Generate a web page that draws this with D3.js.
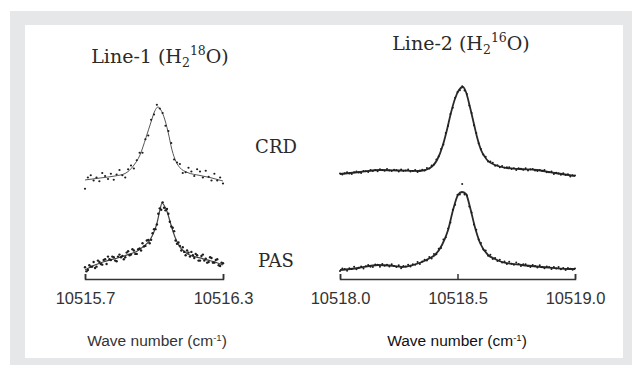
<!DOCTYPE html>
<html>
<head>
<meta charset="utf-8">
<script src="https://cdn.jsdelivr.net/npm/d3@7"></script>
<style>
  body { margin: 0; background: #fff; }
</style>
</head>
<body>
<div id="container"></div>
<script>
let w = 632;
let h = 365;

// scan grids, wave number in cm-1
let wnLeft = [10515.7000, 10515.7125, 10515.7250, 10515.7375, 10515.7500, 10515.7625, 10515.7750, 10515.7875,
  10515.8000, 10515.8125, 10515.8250, 10515.8375, 10515.8500, 10515.8625, 10515.8750, 10515.8875,
  10515.9000, 10515.9125, 10515.9250, 10515.9375, 10515.9500, 10515.9625, 10515.9750, 10515.9875,
  10516.0000, 10516.0125, 10516.0250, 10516.0375, 10516.0500, 10516.0625, 10516.0750, 10516.0875,
  10516.1000, 10516.1125, 10516.1250, 10516.1375, 10516.1500, 10516.1625, 10516.1750, 10516.1875,
  10516.2000, 10516.2125, 10516.2250, 10516.2375, 10516.2500, 10516.2625, 10516.2750, 10516.2875,
  10516.3000];

// second PAS sweep, sampled between the points of the first
let wnLeftB = [10515.7063, 10515.7188, 10515.7313, 10515.7438, 10515.7563, 10515.7688, 10515.7813, 10515.7938,
  10515.8063, 10515.8188, 10515.8313, 10515.8438, 10515.8563, 10515.8688, 10515.8813, 10515.8938,
  10515.9063, 10515.9188, 10515.9313, 10515.9438, 10515.9563, 10515.9688, 10515.9813, 10515.9938,
  10516.0063, 10516.0188, 10516.0313, 10516.0438, 10516.0563, 10516.0688, 10516.0813, 10516.0938,
  10516.1063, 10516.1188, 10516.1313, 10516.1438, 10516.1563, 10516.1688, 10516.1813, 10516.1938,
  10516.2063, 10516.2188, 10516.2313, 10516.2438, 10516.2563, 10516.2688, 10516.2813, 10516.2938];

let wnRight = [10518.00, 10518.01, 10518.02, 10518.03, 10518.04, 10518.05, 10518.06, 10518.07, 10518.08, 10518.09,
  10518.10, 10518.11, 10518.12, 10518.13, 10518.14, 10518.15, 10518.16, 10518.17, 10518.18, 10518.19,
  10518.20, 10518.21, 10518.22, 10518.23, 10518.24, 10518.25, 10518.26, 10518.27, 10518.28, 10518.29,
  10518.30, 10518.31, 10518.32, 10518.33, 10518.34, 10518.35, 10518.36, 10518.37, 10518.38, 10518.39,
  10518.40, 10518.41, 10518.42, 10518.43, 10518.44, 10518.45, 10518.46, 10518.47, 10518.48, 10518.49,
  10518.50, 10518.51, 10518.52, 10518.53, 10518.54, 10518.55, 10518.56, 10518.57, 10518.58, 10518.59,
  10518.60, 10518.61, 10518.62, 10518.63, 10518.64, 10518.65, 10518.66, 10518.67, 10518.68, 10518.69,
  10518.70, 10518.71, 10518.72, 10518.73, 10518.74, 10518.75, 10518.76, 10518.77, 10518.78, 10518.79,
  10518.80, 10518.81, 10518.82, 10518.83, 10518.84, 10518.85, 10518.86, 10518.87, 10518.88, 10518.89,
  10518.90, 10518.91, 10518.92, 10518.93, 10518.94, 10518.95, 10518.96, 10518.97, 10518.98, 10518.99,
  10519.00];

// Line-1 (H2 18O), relative intensity
let crd1 = [-0.09, 0.06, 0.09, 0.02, 0.06, 0.01, 0.12, 0.08, 0.04, 0.11,
  0.03, 0.10, 0.16, 0.09, 0.06, 0.17, 0.22, 0.18, 0.29, 0.39,
  0.39, 0.57, 0.62, 0.83, 0.90, 1.03, 0.98, 0.92, 0.75, 0.68,
  0.52, 0.30, 0.26, 0.24, 0.12, 0.13, 0.19, 0.14, 0.08, 0.17,
  0.14, 0.06, 0.15, 0.07, 0.02, 0.11, 0.02, 0.06, -0.02];

let pas1ScanA = [0.04, 0.00, 0.05, 0.12, 0.05, 0.12, 0.08, 0.16, 0.20, 0.15,
  0.19, 0.13, 0.23, 0.21, 0.19, 0.28, 0.23, 0.29, 0.24, 0.32,
  0.40, 0.36, 0.45, 0.45, 0.61, 0.68, 0.92, 1.01, 0.89, 0.84,
  0.65, 0.58, 0.39, 0.36, 0.34, 0.22, 0.26, 0.27, 0.18, 0.22,
  0.14, 0.23, 0.17, 0.12, 0.18, 0.11, 0.16, 0.06, 0.10];

let pas1ScanB = [-0.02, 0.07, 0.05, 0.03, 0.14, 0.09, 0.15, 0.09, 0.16, 0.20,
  0.14, 0.20, 0.19, 0.16, 0.26, 0.22, 0.31, 0.24, 0.31, 0.29,
  0.35, 0.44, 0.40, 0.55, 0.61, 0.84, 0.90, 0.93, 0.91, 0.72,
  0.63, 0.44, 0.41, 0.29, 0.27, 0.29, 0.20, 0.22, 0.24, 0.14,
  0.21, 0.14, 0.11, 0.19, 0.11, 0.15, 0.07, 0.11];

let crd1FitWn = [10515.700, 10515.765, 10515.830, 10515.874, 10515.909, 10515.939, 10515.965, 10515.987,
  10516.004, 10516.017, 10516.030, 10516.043, 10516.061, 10516.078, 10516.096, 10516.113,
  10516.143, 10516.200, 10516.252, 10516.300];
let crd1Fit = [0.027, 0.053, 0.08, 0.113, 0.21, 0.36, 0.59, 0.80,
  0.95, 1.0, 0.96, 0.87, 0.67, 0.43, 0.27, 0.19,
  0.13, 0.087, 0.053, 0.013];

let pas1FitWn = [10515.700, 10515.743, 10515.778, 10515.852, 10515.896, 10515.926, 10515.957, 10515.983,
  10516.000, 10516.013, 10516.026, 10516.035, 10516.043, 10516.057, 10516.070, 10516.083,
  10516.100, 10516.113, 10516.135, 10516.157, 10516.200, 10516.230, 10516.265, 10516.300];
let pas1Fit = [0.0, 0.075, 0.12, 0.19, 0.24, 0.28, 0.36, 0.45,
  0.57, 0.70, 0.90, 1.0, 0.97, 0.87, 0.72, 0.57,
  0.42, 0.34, 0.27, 0.22, 0.18, 0.15, 0.12, 0.075];

// Line-2 (H2 16O), signal in a.u.
let crd2 = [-1.4, -2.6, -1.2, -0.2, -1.6, -2.0, -0.2, 0.5, -0.4, -0.9,
  1.1, 0.8, -0.1, 2.1, 0.9, 2.0, 0.7, 2.8, 2.0, 1.3,
  3.0, 1.5, 0.9, 2.2, 1.9, 0.5, 2.4, 0.9, 1.6, 2.4,
  0.5, 0.9, 1.9, 0.0, 1.4, 2.3, 1.5, 4.1, 3.6, 6.4,
  7.5, 12.5, 15.6, 23.1, 27.6, 39.1, 46.2, 58.1, 64.2, 74.2,
  80.1, 81.8, 85.7, 81.6, 77.9, 66.5, 58.9, 46.7, 39.0, 28.8,
  23.1, 17.6, 15.2, 10.4, 10.4, 9.3, 6.3, 6.7, 4.7, 6.1,
  4.2, 4.7, 4.8, 2.9, 3.7, 2.1, 3.8, 3.3, 2.2, 3.8,
  1.6, 2.7, 3.0, 1.6, 0.9, 2.1, 1.3, 2.0, -0.3, -0.3,
  0.5, -1.9, -0.7, -1.4, -2.7, -1.2, -3.0, -2.2, -4.5, -3.3,
  -3.4];

let pas2 = [-0.9, 1.5, 0.9, -0.7, 1.8, 1.0, 3.2, 0.7, 2.3, 3.4,
  1.5, 3.7, 4.9, 3.3, 3.0, 5.6, 5.2, 3.3, 5.9, 4.3,
  5.3, 3.5, 5.8, 4.1, 2.9, 4.7, 1.7, 4.0, 3.6, 5.3,
  3.4, 5.7, 5.2, 8.1, 6.0, 8.5, 10.3, 9.6, 13.0, 11.5,
  16.1, 15.8, 21.3, 22.1, 30.4, 32.8, 41.5, 47.5, 60.3, 65.3,
  75.2, 75.6, 85.9, 75.5, 74.8, 63.5, 57.5, 45.4, 40.3, 30.4,
  27.0, 20.5, 19.6, 14.3, 15.2, 11.1, 11.9, 9.0, 10.3, 7.5,
  8.4, 6.0, 8.2, 6.2, 5.3, 7.4, 5.9, 4.1, 5.7, 5.8,
  3.9, 2.9, 5.1, 4.0, 2.6, 4.7, 2.7, 1.7, 3.4, 2.9,
  1.1, 3.1, 1.4, 3.0, 0.7, 1.9, -0.1, 1.9, 1.2, 0.3,
  1.5];

let crd2FitWn = [10518.000, 10518.085, 10518.170, 10518.255, 10518.340, 10518.383, 10518.413, 10518.438,
  10518.455, 10518.472, 10518.489, 10518.506, 10518.523, 10518.536, 10518.553, 10518.570,
  10518.583, 10518.600, 10518.626, 10518.660, 10518.711, 10518.766, 10518.838, 10518.915, 10519.000];
let crd2Fit = [-2, 0, 2, 1.5, 1, 4, 12, 27,
  42, 59, 73, 82, 85, 80, 65, 48,
  35, 22, 12, 7, 4, 3, 2, -1, -4];

let pas2FitWn = [10518.000, 10518.077, 10518.162, 10518.213, 10518.264, 10518.311, 10518.349, 10518.383,
  10518.404, 10518.434, 10518.460, 10518.481, 10518.502, 10518.519, 10518.536, 10518.553,
  10518.574, 10518.596, 10518.630, 10518.660, 10518.689, 10518.774, 10518.860, 10518.970, 10519.000];
let pas2Fit = [0, 2, 5, 4.5, 3, 5, 8, 12,
  15, 25, 40, 60, 75, 78, 76, 63,
  43, 27, 15, 11, 8, 5, 3, 1, 1];

let ticksLeft = [10515.7, 10516.3];
let ticksRight = [10518.0, 10518.5, 10519.0];
let lineNames = ["Line-1", "Line-2"];
let isotopes = ["18", "16"];
let methods = ["CRD", "PAS"];

let serif = "'DejaVu Serif', serif";
let sans = "'Liberation Sans', Arial, sans-serif";

let viz = d3.select("#container")
  .append("svg")
  .attr("width", w)
  .attr("height", h);

viz.append("rect")
  .attr("x", 10)
  .attr("y", 11)
  .attr("width", w - 10)
  .attr("height", h - 11)
  .attr("fill", "#e6e7e9");

viz.append("rect")
  .attr("x", 25)
  .attr("y", 25)
  .attr("width", 598)
  .attr("height", 333)
  .attr("fill", "#ffffff");

let xLeft = d3.scaleLinear().domain([10515.7, 10516.3]).range([85, 223]);
let xRight = d3.scaleLinear().domain([10518.0, 10519.0]).range([340, 575]);

let yCrd1 = d3.scaleLinear().domain([0, 1]).range([182, 107]);
let yPas1 = d3.scaleLinear().domain([0, 1]).range([270, 203]);
let yCrd2 = d3.scaleLinear().domain([0, 85]).range([172, 87]);
let yPas2 = d3.scaleLinear().domain([0, 77]).range([270, 193]);

function drawFit(x, y, wn, vals, width, color) {
  let line = d3.line()
    .x((d, i) => x(wn[i]))
    .y(d => y(d))
    .curve(d3.curveMonotoneX);
  viz.append("path")
    .attr("d", line(vals))
    .attr("fill", "none")
    .attr("stroke", color)
    .attr("stroke-width", width);
}

function drawDots(x, y, wn, vals, r) {
  viz.append("g")
    .selectAll("circle")
    .data(vals)
    .join("circle")
    .attr("cx", (d, i) => x(wn[i]))
    .attr("cy", d => y(d))
    .attr("r", r)
    .attr("fill", "#1e1e1e");
}

drawFit(xLeft, yCrd1, crd1FitWn, crd1Fit, 1, "#555");
drawDots(xLeft, yCrd1, wnLeft, crd1, 1.1);

drawFit(xLeft, yPas1, pas1FitWn, pas1Fit, 1.2, "#444");
drawDots(xLeft, yPas1, wnLeft, pas1ScanA, 1.2);
drawDots(xLeft, yPas1, wnLeftB, pas1ScanB, 1.2);

drawFit(xRight, yCrd2, crd2FitWn, crd2Fit, 1.8, "#2a2a2a");
drawDots(xRight, yCrd2, wnRight, crd2, 1.0);

drawFit(xRight, yPas2, pas2FitWn, pas2Fit, 1.8, "#2a2a2a");
drawDots(xRight, yPas2, wnRight, pas2, 1.0);

// bottom axes
function drawAxis(x, ticks) {
  let axis = d3.axisBottom(x)
    .tickValues(ticks)
    .tickFormat(d3.format(".1f"))
    .tickSizeInner(-5)
    .tickSizeOuter(-5)
    .tickPadding(13);
  let g = viz.append("g")
    .attr("transform", "translate(0,279)")
    .call(axis);
  g.select(".domain").attr("stroke", "#333").attr("stroke-width", 1.5);
  g.selectAll(".tick line").attr("stroke", "#333").attr("stroke-width", 1.5);
  g.selectAll(".tick text")
    .attr("fill", "#333")
    .style("font-family", sans)
    .style("font-size", "16.5px");
}
drawAxis(xLeft, ticksLeft);
drawAxis(xRight, ticksRight);

// axis titles
[157, 457].forEach((cx, i) => {
  let t = viz.append("text")
    .attr("x", cx)
    .attr("y", 346)
    .attr("text-anchor", "middle")
    .attr("fill", i === 0 ? "#333" : "#111")
    .style("font-family", sans)
    .style("font-size", "15.5px");
  t.append("tspan").text("Wave number (cm");
  t.append("tspan").attr("dy", -5).style("font-size", "9.5px").text("-1");
  t.append("tspan").attr("dy", 5).text(")");
});

// panel titles
let titlePos = [[160, 63], [461, 50]];
lineNames.forEach((name, i) => {
  let t = viz.append("text")
    .attr("x", titlePos[i][0])
    .attr("y", titlePos[i][1])
    .attr("text-anchor", "middle")
    .attr("fill", "#2a2a2a")
    .style("font-family", serif)
    .style("font-size", "19px");
  t.append("tspan").text(name + " (H");
  t.append("tspan").attr("dy", 4).style("font-size", "12.5px").text("2");
  t.append("tspan").attr("dy", -12).style("font-size", "12.5px").text(isotopes[i]);
  t.append("tspan").attr("dy", 8).text("O)");
});

// method labels
let methodY = [153, 267];
methods.forEach((m, i) => {
  viz.append("text")
    .attr("x", 276)
    .attr("y", methodY[i])
    .attr("text-anchor", "middle")
    .attr("fill", "#2a2a2a")
    .style("font-family", serif)
    .style("font-size", "18px")
    .text(m);
});
</script>
</body>
</html>
